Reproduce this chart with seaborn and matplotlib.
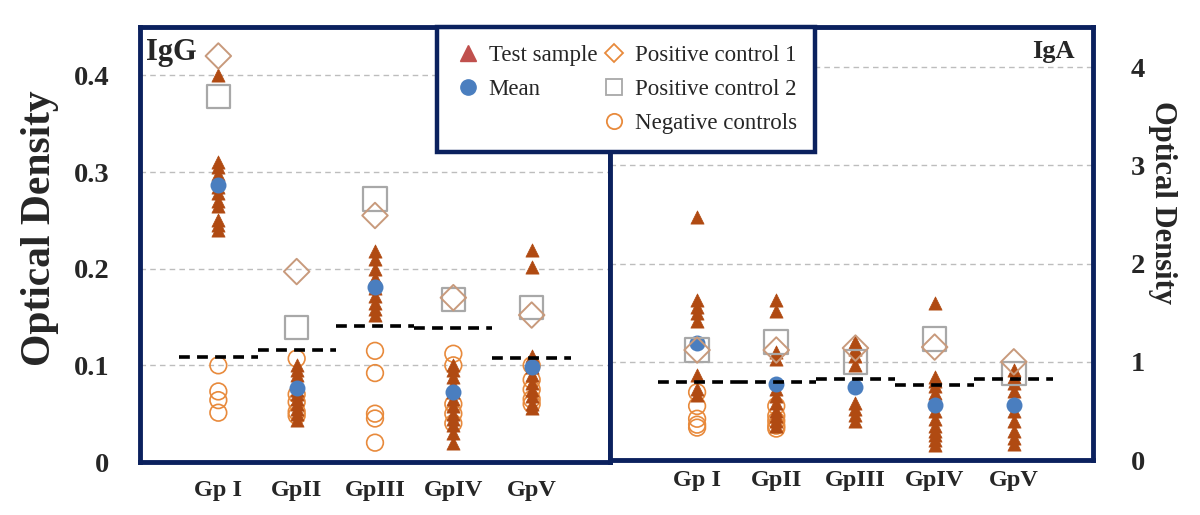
import matplotlib
matplotlib.use("Agg")
import matplotlib.pyplot as plt
from matplotlib.lines import Line2D
import seaborn as sns
import pandas as pd

sns.set_style("white")
plt.rcParams["font.family"] = ["Liberation Serif", "DejaVu Serif"]

groups = ["Gp I", "GpII", "GpIII", "GpIV", "GpV"]

# ---------------- IgG (left panel) ----------------
igg_test = [
    [0.40, 0.31, 0.305, 0.298, 0.292, 0.285, 0.278, 0.27, 0.265, 0.25, 0.245, 0.24],
    [0.10, 0.095, 0.09, 0.085, 0.08, 0.075, 0.07, 0.065, 0.06, 0.055, 0.05, 0.043],
    [0.218, 0.21, 0.20, 0.19, 0.18, 0.172, 0.165, 0.158, 0.152],
    [0.10, 0.095, 0.088, 0.08, 0.072, 0.065, 0.058, 0.05, 0.045, 0.038, 0.03, 0.02],
    [0.219, 0.202, 0.11, 0.105, 0.098, 0.09, 0.082, 0.075, 0.068, 0.06, 0.056],
]
igg_mean = [0.287, 0.077, 0.181, 0.072, 0.098]
igg_pc1 = [0.42, 0.197, 0.255, 0.17, 0.152]
igg_pc2 = [0.378, 0.139, 0.272, 0.168, 0.16]
igg_neg = [
    [0.10, 0.073, 0.064, 0.051],
    [0.107, 0.07, 0.062, 0.052, 0.048],
    [0.115, 0.092, 0.05, 0.045, 0.02],
    [0.112, 0.10, 0.06, 0.05, 0.04],
    [0.10, 0.085, 0.075, 0.065, 0.06],
]
igg_cutoff = [0.109, 0.116, 0.141, 0.139, 0.108]
igg_ticks = [0, 0.1, 0.2, 0.3, 0.4]
igg_ticklabels = ["0", "0.1", "0.2", "0.3", "0.4"]

# ---------------- IgA (right panel) ----------------
iga_test = [
    [2.47, 1.63, 1.56, 1.50, 1.42, 0.87, 0.72, 0.66],
    [1.63, 1.52, 1.10, 1.03, 0.72, 0.65, 0.58, 0.50, 0.45, 0.40, 0.35],
    [1.20, 1.13, 1.06, 0.97, 0.58, 0.52, 0.46, 0.40],
    [1.60, 0.85, 0.80, 0.75, 0.68, 0.60, 0.50, 0.42, 0.35, 0.30, 0.25, 0.20, 0.15],
    [0.92, 0.85, 0.78, 0.70, 0.60, 0.50, 0.40, 0.30, 0.22, 0.16],
]
iga_mean = [1.19, 0.77, 0.74, 0.56, 0.56]
iga_pc1 = [1.12, 1.12, 1.14, 1.15, 1.00]
iga_pc2 = [1.12, 1.20, 1.00, 1.23, 0.88]
iga_neg = [
    [0.69, 0.55, 0.42, 0.36, 0.33],
    [0.55, 0.45, 0.40, 0.35, 0.32],
    [],
    [],
    [],
]
iga_cutoff = [0.79, 0.79, 0.82, 0.76, 0.82]
iga_ticks = [0, 1, 2, 3, 4]
iga_ticklabels = ["0", "1", "2", "3", "4"]

legend_labels = ["Test sample", "Mean", "Positive control 1", "Positive control 2", "Negative controls"]

NAVY = "#0b215e"
TRI = "#b04a12"
TRI_LEG = "#c0504d"
MEAN = "#4a7ebf"
DIAM = "#c89a7c"
SQ = "#a8a8a8"
NEG = "#e88a3c"


def build_df(test, mean, pc1, pc2, neg):
    rows = []
    for g, vals in zip(groups, test):
        rows += [(g, "test", v) for v in vals]
    for g, v in zip(groups, mean):
        rows.append((g, "mean", v))
    for g, v in zip(groups, pc1):
        rows.append((g, "pc1", v))
    for g, v in zip(groups, pc2):
        rows.append((g, "pc2", v))
    for g, vals in zip(groups, neg):
        rows += [(g, "neg", v) for v in vals]
    return pd.DataFrame(rows, columns=["group", "kind", "od"])


def draw_panel(ax, df, cutoff):
    common = dict(x="group", y="od", order=groups, jitter=False, ax=ax)
    sns.stripplot(data=df[df.kind == "neg"], marker="o", size=12, color=NEG,
                  facecolor="none", edgecolor=NEG, linewidth=1.2, zorder=3, **common)
    sns.stripplot(data=df[df.kind == "test"], marker="^", size=9.5, color=TRI,
                  edgecolor=TRI, linewidth=0.5, zorder=4, **common)
    sns.stripplot(data=df[df.kind == "mean"], marker="o", size=11.5, color=MEAN,
                  edgecolor=MEAN, linewidth=0, zorder=5, **common)
    sns.stripplot(data=df[df.kind == "pc2"], marker="s", size=17, color=SQ,
                  facecolor="none", edgecolor=SQ, linewidth=1.6, zorder=6, **common)
    sns.stripplot(data=df[df.kind == "pc1"], marker="D", size=13, color=DIAM,
                  facecolor="none", edgecolor=DIAM, linewidth=1.4, zorder=7, **common)
    for i, c in enumerate(cutoff):
        ax.hlines(c, i - 0.5, i + 0.5, colors="black", linestyles=(0, (3, 2)),
                  linewidth=2.6, zorder=8)
    ax.set_xlabel("")
    for s in ax.spines.values():
        s.set_visible(True)
        s.set_color(NAVY)
        s.set_linewidth(3.5)
        s.set_zorder(10)
    ax.tick_params(length=0)


fig = plt.figure(figsize=(12, 5.15), dpi=100)
ax1 = fig.add_axes([140 / 1200, 53 / 515, 470 / 1200, 435 / 515])
ax2 = fig.add_axes([610 / 1200, 55 / 515, 483 / 1200, 433 / 515])

draw_panel(ax1, build_df(igg_test, igg_mean, igg_pc1, igg_pc2, igg_neg), igg_cutoff)
draw_panel(ax2, build_df(iga_test, iga_mean, iga_pc1, iga_pc2, iga_neg), iga_cutoff)

# left axis
ax1.set_xlim(-1.0, 5.0)
ax1.set_ylim(0, 0.45)
ax1.set_yticks(igg_ticks)
ax1.set_yticklabels(igg_ticklabels, fontsize=20.5, fontweight="bold")
ax1.tick_params(axis="y", pad=22)
ax1.tick_params(axis="x", pad=13)
for lab in ax1.get_xticklabels():
    lab.set_fontsize(17.5)
    lab.set_fontweight("bold")
ax1.set_ylabel("Optical Density", fontsize=30, fontweight="bold",
               va="center", ha="center")
ax1.yaxis.set_label_coords(-0.213, 0.538)
ax1.yaxis.grid(True, color="#bdbdbd", linestyle=(0, (4, 3)), linewidth=1)
ax1.set_axisbelow(True)
ax1.text(0.012, 0.975, "IgG", transform=ax1.transAxes, ha="left", va="top",
         fontsize=22, fontweight="bold", zorder=9)

# right axis
ax2.set_xlim(-1.1, 5.0)
ax2.set_ylim(0, 4.41)
ax2.yaxis.tick_right()
ax2.yaxis.set_label_position("right")
ax2.set_yticks(iga_ticks)
ax2.set_yticklabels(iga_ticklabels, fontsize=20.5, fontweight="bold")
ax2.tick_params(axis="y", pad=27)
ax2.tick_params(axis="x", pad=7)
for lab in ax2.get_xticklabels():
    lab.set_fontsize(17.5)
    lab.set_fontweight("bold")
ax2.set_ylabel("Optical Density", fontsize=22, fontweight="bold", rotation=270,
               va="center", ha="center")
ax2.yaxis.set_label_coords(1.143, 0.594)
ax2.yaxis.grid(True, color="#bdbdbd", linestyle=(0, (4, 3)), linewidth=1)
ax2.set_axisbelow(True)
ax2.text(0.962, 0.97, "IgA", transform=ax2.transAxes, ha="right", va="top",
         fontsize=19, fontweight="bold", zorder=9)

# legend
handles = [
    Line2D([], [], marker="^", linestyle="none", markersize=11, color=TRI_LEG),
    Line2D([], [], marker="o", linestyle="none", markersize=11, color=MEAN),
    Line2D([], [], linestyle="none"),
    Line2D([], [], marker="D", linestyle="none", markersize=9, markerfacecolor="none",
           markeredgecolor=NEG, markeredgewidth=1.3),
    Line2D([], [], marker="s", linestyle="none", markersize=11, markerfacecolor="none",
           markeredgecolor=SQ, markeredgewidth=1.3),
    Line2D([], [], marker="o", linestyle="none", markersize=11, markerfacecolor="none",
           markeredgecolor=NEG, markeredgewidth=1.3),
]
labels = [legend_labels[0], legend_labels[1], "", legend_labels[2], legend_labels[3],
          legend_labels[4]]
leg = fig.legend(handles, labels, ncol=2, loc="upper left",
                 bbox_to_anchor=(437 / 1200, 1 - 27 / 515), frameon=True,
                 fancybox=False, framealpha=1, edgecolor=NAVY, borderpad=0.8,
                 handletextpad=0.35, columnspacing=0.2, labelspacing=0.55,
                 handlelength=1.1, borderaxespad=0, prop={"size": 16.5})
leg.get_frame().set_linewidth(3.2)
leg.set_zorder(20)

fig.savefig("out.png", dpi=100)
